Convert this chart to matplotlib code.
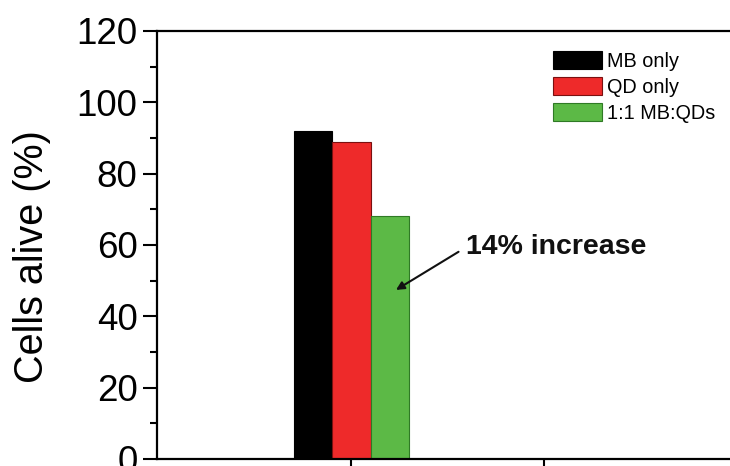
"""
Cell viability bar chart: MB only vs QD only vs 1:1 MB:QDs.
"""

import matplotlib
matplotlib.use("Agg")

import matplotlib.pyplot as plt
from matplotlib.ticker import MultipleLocator
import numpy as np

# Data
groups = [1]
series_names = ["MB only", "QD only", "1:1 MB:QDs"]
series_values = [[92.0], [89.0], [68.0]]
series_colors = ["#000000", "#ee2a2a", "#5cb946"]
edge_colors = ["#000000", "#7a1010", "#2f7a25"]

y_ticks = [0, 20, 40, 60, 80, 100, 120]
annotation_text = "14% increase"

plt.rcParams["font.family"] = ["Liberation Sans", "DejaVu Sans"]

W, H = 730, 466
fig = plt.figure(figsize=(W / 100, H / 100), dpi=100)
# right spine falls just outside the figure, like in the cropped original
ax = fig.add_axes([157 / W, 7 / H, 579 / W, 428 / H])

x = np.array(groups, dtype=float)
width = 0.2
offsets = [-width, 0.0, width]
handles = []
for name, vals, col, ec, off in zip(series_names, series_values, series_colors,
                                    edge_colors, offsets):
    h = ax.bar(x + off, vals, width=width, color=col, edgecolor=ec,
               linewidth=0.8, label=name)
    handles.append(h)

ax.set_xlim(-0.01, 3.0)
ax.set_ylim(0, 120)
ax.set_yticks(y_ticks)
ax.yaxis.set_minor_locator(MultipleLocator(10))
ax.set_xticks([1, 2])
ax.set_xticklabels(["", ""])

ax.tick_params(axis="y", which="major", direction="out", length=10, width=1.5,
               labelsize=26.5, pad=4)
ax.tick_params(axis="y", which="minor", direction="out", length=5, width=1.5)
ax.tick_params(axis="x", which="major", direction="out", length=8, width=1.5)
for side in ax.spines.values():
    side.set_linewidth(1.6)

ax.set_ylabel("Cells alive (%)", fontsize=28.5)
ax.yaxis.set_label_coords(-0.183, 0.474)

# Annotation arrow pointing into the green bar
ax.annotate(
    "",
    xy=(1.22, 47),
    xytext=(1.57, 58.5),
    arrowprops=dict(arrowstyle="-|>", color="#111111", lw=1.5,
                    mutation_scale=12),
)
ax.text(1.595, 59.5, annotation_text, fontsize=20.5, fontweight="bold",
        ha="left", va="center", color="#111111")

ax.legend(
    handles=handles,
    loc="upper left",
    bbox_to_anchor=(553 / W, 1 - 51 / H),
    bbox_transform=fig.transFigure,
    frameon=False,
    fontsize=14.3,
    handlelength=2.45,
    handleheight=1.0,
    handletextpad=0.25,
    labelspacing=0.33,
    borderpad=0,
    borderaxespad=0,
)

fig.savefig("out.png", dpi=100)
plt.close(fig)
